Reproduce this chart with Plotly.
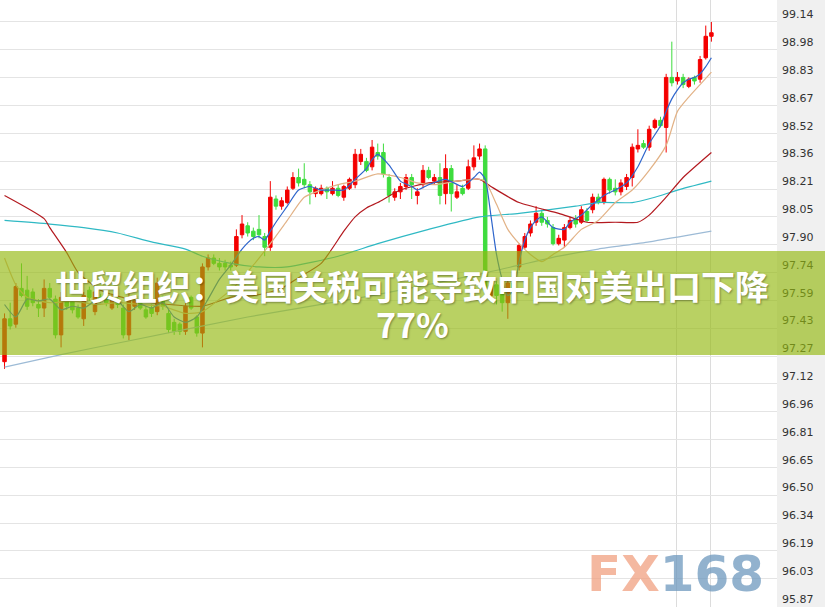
import numpy as np
import plotly.graph_objects as go

# ---------------- data ----------------
candle_idx = list(range(126))
open_ = [97.24, 97.48, 97.45, 97.65, 97.64, 97.63, 97.56, 97.54, 97.65, 97.59,
         97.39, 97.59, 97.58, 97.54, 97.48, 97.64, 97.52, 97.60, 97.60, 97.54,
         97.59, 97.54, 97.39, 97.55, 97.57, 97.53, 97.54, 97.52, 97.60, 97.51,
         97.46, 97.45, 97.41, 97.60, 97.49, 97.40, 97.77, 97.82, 97.79, 97.79,
         97.78, 97.78, 97.95, 98.00, 97.97, 97.98, 97.94, 97.88, 98.15, 98.11,
         98.13, 98.21, 98.27, 98.26, 98.23, 98.18, 98.18, 98.21, 98.18, 98.21,
         98.16, 98.21, 98.23, 98.36, 98.36, 98.33, 98.41, 98.41, 98.27, 98.16,
         98.19, 98.22, 98.27, 98.17, 98.23, 98.31, 98.25, 98.27, 98.18, 98.32,
         98.16, 98.21, 98.21, 98.33, 98.39, 98.43, 97.61, 97.67, 97.66, 97.57,
         97.68, 97.77, 97.88, 97.96, 98.02, 98.07, 98.03, 97.99, 97.90, 97.92,
         97.99, 98.04, 98.02, 98.08, 98.09, 98.16, 98.13, 98.26, 98.21, 98.19,
         98.22, 98.27, 98.43, 98.46, 98.44, 98.55, 98.59, 98.55, 98.83, 98.81,
         98.83, 98.78, 98.83, 98.82, 98.94, 99.06]
high = [97.51, 97.57, 97.68, 97.79, 97.72, 97.65, 97.59, 97.70, 97.68, 97.61,
        97.63, 97.60, 97.59, 97.56, 97.63, 97.66, 97.65, 97.62, 97.62, 97.62,
        97.60, 97.56, 97.62, 97.59, 97.59, 97.55, 97.56, 97.71, 97.61, 97.53,
        97.48, 97.46, 97.57, 97.61, 97.50, 97.79, 97.84, 97.84, 97.82, 97.81,
        97.80, 97.98, 98.06, 98.02, 97.99, 98.06, 97.96, 98.25, 98.17, 98.16,
        98.22, 98.30, 98.32, 98.35, 98.25, 98.22, 98.23, 98.22, 98.25, 98.23,
        98.23, 98.27, 98.43, 98.43, 98.38, 98.48, 98.46, 98.46, 98.29, 98.21,
        98.24, 98.29, 98.29, 98.21, 98.34, 98.33, 98.29, 98.35, 98.40, 98.34,
        98.23, 98.23, 98.37, 98.45, 98.46, 98.45, 97.69, 97.69, 97.68, 97.70,
        97.70, 97.90, 97.96, 98.03, 98.11, 98.09, 98.05, 98.01, 97.95, 98.01,
        98.05, 98.06, 98.11, 98.10, 98.18, 98.18, 98.27, 98.27, 98.26, 98.26,
        98.29, 98.46, 98.54, 98.48, 98.56, 98.60, 98.61, 98.85, 99.03, 98.86,
        98.85, 98.83, 98.84, 98.95, 99.12, 99.14]
low = [97.20, 97.42, 97.43, 97.60, 97.53, 97.55, 97.49, 97.49, 97.59, 97.37,
       97.32, 97.53, 97.51, 97.48, 97.44, 97.58, 97.50, 97.57, 97.55, 97.53,
       97.54, 97.37, 97.36, 97.53, 97.53, 97.48, 97.49, 97.50, 97.53, 97.40,
       97.39, 97.39, 97.39, 97.53, 97.38, 97.32, 97.75, 97.78, 97.75, 97.75,
       97.75, 97.77, 97.93, 97.94, 97.92, 97.93, 97.83, 97.86, 98.09, 98.09,
       98.12, 98.20, 98.22, 98.21, 98.12, 98.16, 98.17, 98.15, 98.17, 98.16,
       98.14, 98.20, 98.21, 98.34, 98.30, 98.31, 98.37, 98.27, 98.13, 98.14,
       98.15, 98.20, 98.15, 98.12, 98.21, 98.26, 98.23, 98.12, 98.12, 98.08,
       98.15, 98.17, 98.20, 98.31, 98.37, 97.63, 97.60, 97.56, 97.52, 97.48,
       97.63, 97.75, 97.87, 97.94, 98.00, 98.00, 97.99, 97.89, 97.89, 97.88,
       97.98, 97.99, 98.01, 98.02, 98.07, 98.12, 98.12, 98.18, 98.17, 98.17,
       98.20, 98.22, 98.41, 98.43, 98.42, 98.54, 98.55, 98.41, 98.78, 98.79,
       98.77, 98.77, 98.79, 98.80, 98.93, 99.03]
close = [97.48, 97.44, 97.66, 97.61, 97.55, 97.57, 97.54, 97.65, 97.60, 97.39,
         97.60, 97.55, 97.53, 97.49, 97.61, 97.60, 97.63, 97.59, 97.57, 97.60,
         97.56, 97.39, 97.60, 97.58, 97.54, 97.49, 97.51, 97.68, 97.55, 97.42,
         97.41, 97.41, 97.55, 97.54, 97.40, 97.77, 97.82, 97.79, 97.77, 97.77,
         97.77, 97.94, 98.01, 97.96, 97.94, 97.95, 97.88, 98.16, 98.11, 98.14,
         98.20, 98.27, 98.24, 98.23, 98.19, 98.21, 98.21, 98.19, 98.21, 98.17,
         98.22, 98.26, 98.40, 98.40, 98.31, 98.44, 98.39, 98.29, 98.17, 98.19,
         98.22, 98.27, 98.23, 98.19, 98.31, 98.27, 98.27, 98.17, 98.32, 98.18,
         98.19, 98.18, 98.33, 98.38, 98.43, 97.64, 97.67, 97.61, 97.57, 97.68,
         97.64, 97.89, 97.94, 98.01, 98.07, 98.02, 98.01, 97.90, 97.93, 97.99,
         98.03, 98.01, 98.09, 98.03, 98.16, 98.13, 98.26, 98.20, 98.19, 98.24,
         98.27, 98.44, 98.45, 98.44, 98.54, 98.59, 98.56, 98.83, 98.80, 98.83,
         98.79, 98.82, 98.81, 98.93, 99.06, 99.08]

# moving-average lines, read at sampled candles
ma5_idx = [0, 2, 4, 6, 8, 10, 12, 14, 16, 18, 20, 22, 24, 26, 28, 30, 32, 34, 36, 38,
           40, 42, 44, 45, 46, 47, 48, 50, 52, 54, 56, 58, 60, 62, 64, 65, 66, 68, 70, 72,
           73, 75, 78, 81, 83, 84, 85, 86, 87, 88, 89, 90, 91, 92, 93, 94, 95, 97, 99, 100,
           102, 104, 106, 108, 110, 112, 114, 116, 117, 118, 119, 120, 121, 122, 123, 124, 125]
ma5_val = [97.56, 97.49, 97.59, 97.58, 97.59, 97.53, 97.55, 97.54, 97.58, 97.59, 97.58, 97.52,
           97.56, 97.54, 97.57, 97.49, 97.46, 97.49, 97.59, 97.70, 97.78, 97.87, 97.93, 97.94,
           97.92, 97.97, 98.02, 98.11, 98.20, 98.22, 98.20, 98.20, 98.20, 98.26, 98.32, 98.37,
           98.40, 98.34, 98.25, 98.22, 98.20, 98.23, 98.26, 98.22, 98.27, 98.30, 98.26, 98.06,
           97.84, 97.70, 97.61, 97.64, 97.80, 97.92, 97.99, 98.03, 98.05, 97.99, 97.98, 98.02,
           98.06, 98.12, 98.17, 98.20, 98.24, 98.33, 98.46, 98.56, 98.64, 98.71, 98.76, 98.80,
           98.82, 98.83, 98.85, 98.89, 98.94]
ma10_idx = [0, 2, 4, 8, 12, 16, 20, 24, 28, 32, 35, 38, 41, 44, 47, 50, 53, 56, 59, 62,
            66, 70, 73, 76, 80, 84, 85, 87, 89, 91, 93, 95, 97, 99, 102, 105, 108, 111, 114,
            117, 119, 121, 123, 125]
ma10_val = [97.82, 97.67, 97.60, 97.57, 97.58, 97.56, 97.57, 97.56, 97.55, 97.51, 97.52, 97.59,
            97.67, 97.78, 97.90, 98.03, 98.16, 98.20, 98.23, 98.25, 98.29, 98.27, 98.24, 98.23,
            98.25, 98.26, 98.25, 98.12, 97.98, 97.90, 97.84, 97.80, 97.84, 97.88, 97.98, 98.03,
            98.13, 98.20, 98.31, 98.45, 98.64, 98.72, 98.79, 98.86]
ma20_idx = [0, 7, 8, 11, 13, 17, 22, 29, 35, 40, 44, 47, 49, 52, 56, 60, 62, 64, 66, 70,
            75, 80, 84, 86, 91, 98, 103, 108, 112, 114, 117, 120, 125]
ma20_val = [98.17, 98.04, 97.99, 97.85, 97.74, 97.64, 97.59, 97.56, 97.55, 97.60, 97.61, 97.63,
            97.65, 97.71, 97.79, 97.97, 98.05, 98.10, 98.13, 98.20, 98.24, 98.25, 98.26, 98.22,
            98.13, 98.07, 98.02, 98.02, 98.02, 98.06, 98.16, 98.27, 98.41]
ma60_idx = [0, 8, 14, 20, 26, 32, 35, 40, 45, 50, 59, 66, 75, 84, 91, 101, 105, 111, 115,
            119, 125]
ma60_val = [98.03, 98.01, 97.99, 97.96, 97.91, 97.87, 97.83, 97.79, 97.77, 97.77, 97.83, 97.90,
            97.98, 98.05, 98.07, 98.11, 98.13, 98.13, 98.16, 98.20, 98.25]
ma120_idx = [0, 10, 21, 43, 65, 84, 91, 98, 105, 114, 125]
ma120_val = [97.21, 97.28, 97.35, 97.49, 97.61, 97.73, 97.78, 97.83, 97.87, 97.91, 97.97]

tick_labels = ["95.87", "96.03", "96.19", "96.34", "96.50", "96.65", "96.81", "96.96",
               "97.12", "97.27", "97.43", "97.59", "97.74", "97.90", "98.05", "98.21",
               "98.36", "98.52", "98.67", "98.83", "98.98", "99.14"]

title_line1 = "世贸组织：美国关税可能导致中国对美出口下降"
title_line2 = "77%"

# ---------------- figure ----------------
W, H = 825, 607
PLOT_W = 777
fig = go.Figure()

fig.add_trace(go.Candlestick(
    x=candle_idx, open=open_, high=high, low=low, close=close,
    increasing=dict(line=dict(color="#f40000", width=1), fillcolor="#f40000"),
    decreasing=dict(line=dict(color="#3edc3e", width=1), fillcolor="#3edc3e"),
    whiskerwidth=0, showlegend=False, hoverinfo="skip"))

lines = [
    (ma120_idx, ma120_val, "#9dbbd6"),
    (ma60_idx, ma60_val, "#2fb9c4"),
    (ma20_idx, ma20_val, "#b3191f"),
    (ma10_idx, ma10_val, "#e2b286"),
    (ma5_idx, ma5_val, "#2f66cc"),
]
for xs, ys, col in lines:
    fig.add_trace(go.Scatter(x=xs, y=ys, mode="lines",
                             line=dict(color=col, width=1.2, shape="spline", smoothing=0.6),
                             showlegend=False, hoverinfo="skip"))

tickvals = list(np.linspace(95.87, 99.14, len(tick_labels)))

fig.update_layout(
    width=W, height=H,
    margin=dict(l=0, r=W - PLOT_W, t=0, b=0),
    paper_bgcolor="#f0f0f0",
    plot_bgcolor="#ffffff",
    boxgap=0.12,
    showlegend=False,
    xaxis=dict(range=[-0.80, 136.6], rangeslider=dict(visible=False),
               showticklabels=False, ticks="", tickvals=[118.9, 124.8],
               showgrid=True, gridcolor="#dcdcdc", gridwidth=1,
               zeroline=False, showline=False, fixedrange=True),
    yaxis=dict(range=[95.868, 99.263], side="right", tickvals=tickvals,
               ticktext=tick_labels, ticks="", ticklabelposition="outside top",
               ticklabelstandoff=4,
               tickfont=dict(family="DejaVu Sans", size=11, color="#333333"),
               showgrid=True, gridcolor="#e4e4e4", gridwidth=1,
               zeroline=False, showline=False, fixedrange=True),
)

# green banner over the chart
fig.add_shape(type="rect", xref="paper", yref="paper",
              x0=0, x1=W / PLOT_W + 0.01, y0=1 - 355 / H, y1=1 - 251 / H,
              fillcolor="rgba(147,185,15,0.65)", line=dict(width=0), layer="above")

tfont = dict(family="Noto Sans CJK SC", size=34, color="#ffffff",
             shadow="1px 1px 2px rgba(0,0,0,0.35)")
fig.add_annotation(xref="paper", yref="paper", x=412 / PLOT_W, y=1 - 285 / H,
                   text="<b>" + title_line1 + "</b>", showarrow=False,
                   xanchor="center", yanchor="middle", font=tfont)
fig.add_annotation(xref="paper", yref="paper", x=412 / PLOT_W, y=1 - 323 / H,
                   text="<b>" + title_line2 + "</b>", showarrow=False,
                   xanchor="center", yanchor="middle", font=tfont)

# watermark
fig.add_annotation(xref="paper", yref="paper", x=675 / PLOT_W, y=1 - 574 / H,
                   text="<b><span style='color:rgba(240,160,128,0.75)'>FX</span>"
                        "<span style='color:rgba(110,152,190,0.75)'>168</span></b>",
                   showarrow=False, xanchor="center", yanchor="middle",
                   font=dict(family="DejaVu Sans", size=50))

fig.write_html("out.html", config={"displayModeBar": False},
               post_script="document.body.style.margin='0';"
                           "document.body.style.overflow='hidden';")
